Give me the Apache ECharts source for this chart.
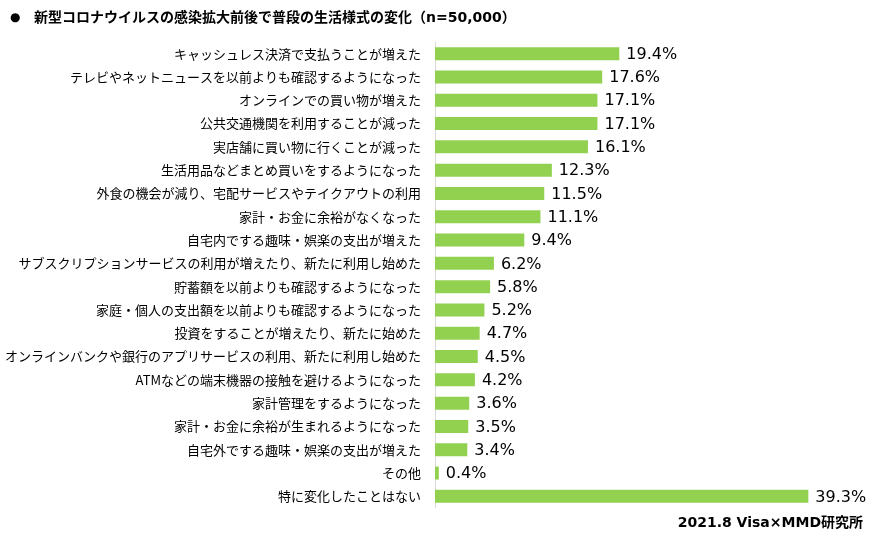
<!DOCTYPE html>
<html>
<head>
<meta charset="utf-8">
<script src="https://cdn.jsdelivr.net/npm/echarts@6/dist/echarts.min.js"></script>
<style>
html, body { margin: 0; padding: 0; background: #fff; }
#main { width: 872px; height: 538px; }
</style>
</head>
<body>
<div id="main"></div>
<script>
var categories = [
    'キャッシュレス決済で支払うことが増えた',
    'テレビやネットニュースを以前よりも確認するようになった',
    'オンラインでの買い物が増えた',
    '公共交通機関を利用することが減った',
    '実店舗に買い物に行くことが減った',
    '生活用品などまとめ買いをするようになった',
    '外食の機会が減り、宅配サービスやテイクアウトの利用',
    '家計・お金に余裕がなくなった',
    '自宅内でする趣味・娯楽の支出が増えた',
    'サブスクリプションサービスの利用が増えたり、新たに利用し始めた',
    '貯蓄額を以前よりも確認するようになった',
    '家庭・個人の支出額を以前よりも確認するようになった',
    '投資をすることが増えたり、新たに始めた',
    'オンラインバンクや銀行のアプリサービスの利用、新たに利用し始めた',
    'ATMなどの端末機器の接触を避けるようになった',
    '家計管理をするようになった',
    '家計・お金に余裕が生まれるようになった',
    '自宅外でする趣味・娯楽の支出が増えた',
    'その他',
    '特に変化したことはない'
];
var values = [19.4, 17.6, 17.1, 17.1, 16.1, 12.3, 11.5, 11.1, 9.4, 6.2, 5.8, 5.2, 4.7, 4.5, 4.2, 3.6, 3.5, 3.4, 0.4, 39.3];

var titleText = '新型コロナウイルスの感染拡大前後で普段の生活様式の変化（n=50,000）';
var sourceText = '2021.8 Visa×MMD研究所';

var font = '"Noto Sans CJK JP", "Noto Sans", sans-serif';
// wider latin glyphs for numbers, CJK falls back
var wideFont = '"DejaVu Sans", "Noto Sans CJK JP", sans-serif';

var myChart = echarts.init(document.getElementById('main'));
var option = {
    backgroundColor: '#fff',
    animation: false,
    textStyle: { fontFamily: font },
    title: [
        {
            text: '{b|●}' + titleText,
            left: 5,
            top: 6,
            textStyle: {
                fontSize: 14, fontWeight: 'bold', color: '#000', fontFamily: wideFont,
                rich: {
                    b: { fontSize: 12, width: 24, color: '#000', fontFamily: wideFont }
                }
            }
        },
        {
            text: sourceText,
            right: 4,
            top: 511,
            textStyle: { fontSize: 14, fontWeight: 'bold', color: '#000', fontFamily: wideFont }
        }
    ],
    grid: {
        left: 435,
        top: 42,
        width: 380,
        height: 466
    },
    xAxis: {
        type: 'value',
        min: 0,
        max: 40,
        show: false
    },
    yAxis: {
        type: 'category',
        inverse: true,
        data: categories,
        axisLine: { show: true, lineStyle: { color: '#d9d9d9', width: 1 } },
        axisTick: { show: false },
        axisLabel: { color: '#000', fontSize: 13, margin: 14, fontFamily: font }
    },
    series: [
        {
            type: 'bar',
            data: values,
            barWidth: 13,
            itemStyle: { color: '#92d050' },
            label: {
                show: true,
                position: 'right',
                distance: 7,
                offset: [0, 1],
                color: '#000',
                fontSize: 16,
                fontFamily: wideFont,
                formatter: function (p) { return p.value.toFixed(1) + '%'; }
            }
        }
    ]
};
myChart.setOption(option);
</script>
</body>
</html>
